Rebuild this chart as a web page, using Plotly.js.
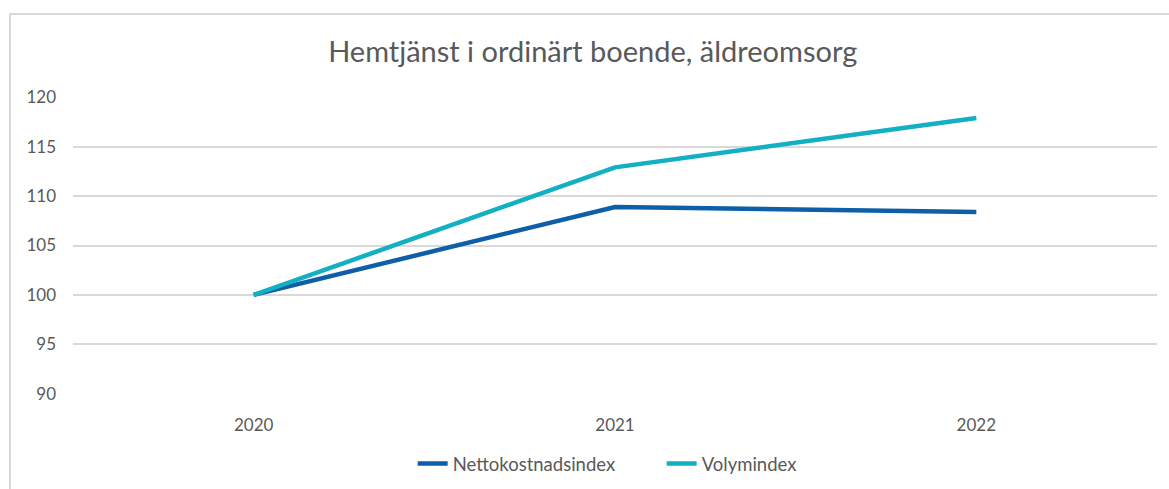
<!DOCTYPE html>
<html>
<head>
<meta charset="utf-8">
<script src="https://cdn.plot.ly/plotly-3.0.1.min.js"></script>
<style>
html,body{margin:0;padding:0;background:#fff;}
#wrap{position:relative;width:1169px;height:489px;overflow:hidden;}
#chart{width:1169px;height:489px;}
#frame{position:absolute;left:9px;top:13px;width:1200px;height:500px;border-left:2px solid #d9d9d9;border-top:2px solid #d9d9d9;pointer-events:none;}
</style>
</head>
<body>
<div id="wrap"><div id="chart"></div><div id="frame"></div></div>
<script>
const years = ["2020", "2021", "2022"];
const nettokostnadsindex = [100, 108.9, 108.4];
const volymindex = [100, 112.9, 117.9];
const seriesNames = ["Nettokostnadsindex", "Volymindex"];
const chartTitle = "Hemtjänst i ordinärt boende, äldreomsorg";

const font = "Lato, 'Open Sans', sans-serif";
const traces = [
  {x: years, y: nettokostnadsindex, name: seriesNames[0], type: "scatter", mode: "lines",
   line: {color: "#0E5EA8", width: 4.5}},
  {x: years, y: volymindex, name: seriesNames[1], type: "scatter", mode: "lines",
   line: {color: "#13AFC2", width: 4.5}}
];
const layout = {
  width: 1169, height: 489,
  margin: {l: 73, r: 12, t: 97, b: 95},
  paper_bgcolor: "#fff", plot_bgcolor: "#fff",
  title: {text: chartTitle, x: 0.507, xanchor: "center", y: 0.893, yanchor: "middle",
          font: {family: font, size: 29, color: "#595959"}},
  xaxis: {type: "category", range: [-0.5, 2.5], showgrid: false, zeroline: false, showline: false,
          ticks: "", ticklabelstandoff: 19, tickfont: {family: font, size: 17, color: "#595959"},
          fixedrange: true},
  yaxis: {range: [89.98, 120.02], tickvals: [90, 95, 100, 105, 110, 115, 120],
          showgrid: true, gridcolor: "#d9d9d9", gridwidth: 2, zeroline: false, showline: false,
          ticks: "", ticklabelstandoff: 16, tickfont: {family: font, size: 17, color: "#595959"},
          fixedrange: true},
  showlegend: true,
  legend: {orientation: "h", xref: "container", yref: "container",
           x: 0.353, xanchor: "left", y: 0.051, yanchor: "middle",
           entrywidth: 204, entrywidthmode: "pixels",
           font: {family: font, size: 18.5, color: "#595959"}, tracegroupgap: 0},
  hovermode: false
};
Plotly.newPlot("chart", traces, layout, {displayModeBar: false, staticPlot: true});
</script>
</body>
</html>
